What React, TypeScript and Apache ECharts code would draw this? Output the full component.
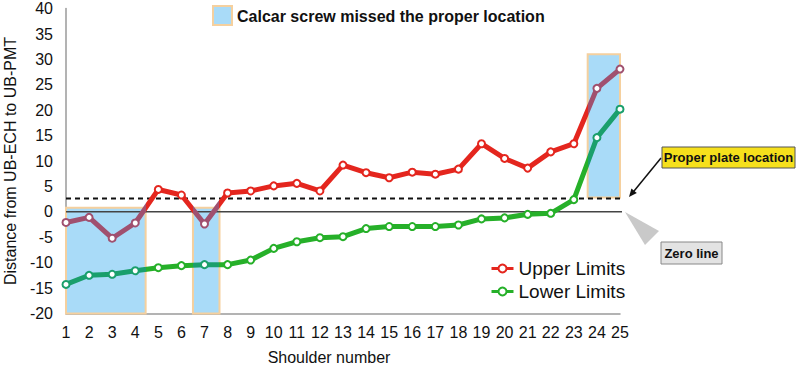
import React, { useEffect, useRef } from "react";
import * as echarts from "echarts";

const shoulders = [1, 2, 3, 4, 5, 6, 7, 8, 9, 10, 11, 12, 13, 14, 15, 16, 17, 18, 19, 20, 21, 22, 23, 24, 25];
const upperLimits = [-2.1, -1.1, -5.2, -2.2, 4.4, 3.3, -2.4, 3.7, 4.1, 5.1, 5.6, 4.1, 9.2, 7.7, 6.7, 7.8, 7.4, 8.4, 13.4, 10.5, 8.6, 11.8, 13.4, 24.3, 28.1];
const lowerLimits = [-14.3, -12.5, -12.3, -11.6, -11.0, -10.6, -10.4, -10.4, -9.5, -7.2, -5.9, -5.1, -4.9, -3.3, -2.9, -2.9, -2.9, -2.6, -1.4, -1.2, -0.5, -0.3, 2.4, 14.6, 20.2];
const yMin = -20;
const yMax = 40;
const yInterval = 5;
// [xStart, xEnd, yBottom, yTop] of the "calcar screw missed" boxes
const missedRanges = [
  [1, 4.45, -20, 0.8],
  [6.5, 7.65, -20, 0.8],
  [23.6, 25.4, 2.8, 31],
];
const properPlateLevel = 2.6;
const properPlateExtent = [1, 25.4];
const zeroLevel = 0;
const zeroExtent = [1, 25.1];
const seriesNames = ["Upper Limits", "Lower Limits"];
const missedLabel = "Calcar screw missed the proper location";

const RED = "#e4261e";
const PURPLE = "#a0506f";
const GREEN = "#26b029";
const TEAL = "#1a9f6c";
const BOX_FILL = "#a9dbf8";
const BOX_BORDER = "#f5d09e";

export default function App() {
  const ref = useRef<HTMLDivElement>(null);
  useEffect(() => {
    if (!ref.current) return;
    const chart = echarts.init(ref.current, undefined, { renderer: "svg" });
    const pieces = (c: string) =>
      missedRanges.map((r) => ({ gte: r[0], lte: r[1], color: c }));
    const font = "'Liberation Sans', Arial, Helvetica, sans-serif";
    chart.setOption({
      animation: false,
      textStyle: { fontFamily: font },
      grid: { left: 66, right: 177, top: 8.6, bottom: 52.6, outerBoundsMode: "none", containLabel: false },
      xAxis: {
        type: "value",
        min: 1,
        max: 25,
        interval: 1,
        name: "Shoulder number",
        nameLocation: "middle",
        nameGap: 36,
        nameTextStyle: { fontSize: 16, color: "#111", padding: [0, 28, 0, 0] },
        axisLine: { show: true, onZero: false, lineStyle: { color: "#9a9a9a", width: 1.5 } },
        axisTick: { show: false },
        splitLine: { show: false },
        axisLabel: { fontSize: 16, color: "#111", margin: 11 },
      },
      yAxis: {
        type: "value",
        min: yMin,
        max: yMax,
        interval: yInterval,
        name: "Distance from UB-ECH to UB-PMT",
        nameLocation: "middle",
        nameRotate: 90,
        nameGap: 48,
        nameTextStyle: { fontSize: 16, color: "#111" },
        axisLine: { show: true, onZero: false, lineStyle: { color: "#9a9a9a", width: 1.5 } },
        axisTick: { show: false },
        splitLine: { show: false },
        axisLabel: { fontSize: 16, color: "#111", margin: 13 },
      },
      legend: {
        data: seriesNames,
        orient: "vertical",
        left: 485,
        top: 254,
        itemWidth: 22,
        itemHeight: 10,
        itemGap: 4,
        textStyle: { fontSize: 19, color: "#111" },
        lineStyle: { width: 3 },
      },
      visualMap: [
        {
          type: "piecewise",
          show: false,
          seriesIndex: 1,
          dimension: 0,
          pieces: pieces(PURPLE),
          outOfRange: { color: RED },
        },
        {
          type: "piecewise",
          show: false,
          seriesIndex: 2,
          dimension: 0,
          pieces: pieces(TEAL),
          outOfRange: { color: GREEN },
        },
      ],
      series: [
        {
          type: "line",
          name: "boxes",
          data: [],
          z: 1,
          clip: false,
          silent: true,
          markArea: {
            silent: true,
            itemStyle: { color: BOX_FILL, borderColor: BOX_BORDER, borderWidth: 2 },
            data: missedRanges.map((r) => [
              { coord: [r[0], r[2]] },
              { coord: [r[1], r[3]] },
            ]),
          },
        },
        {
          type: "line",
          name: seriesNames[0],
          z: 3,
          color: RED,
          data: shoulders.map((s, i) => [s, upperLimits[i]]),
          symbol: "emptyCircle",
          symbolSize: 7,
          lineStyle: { width: 5 },
          itemStyle: { borderWidth: 1.5 },
        },
        {
          type: "line",
          name: seriesNames[1],
          z: 3,
          color: GREEN,
          data: shoulders.map((s, i) => [s, lowerLimits[i]]),
          symbol: "emptyCircle",
          symbolSize: 7,
          lineStyle: { width: 5 },
          itemStyle: { borderWidth: 1.5 },
        },
        {
          type: "line",
          name: "zero",
          z: 2,
          clip: false,
          silent: true,
          symbol: "none",
          color: "#444",
          lineStyle: { width: 1.5, color: "#444" },
          data: zeroExtent.map((x) => [x, zeroLevel]),
        },
        {
          type: "line",
          name: "proper",
          z: 2,
          clip: false,
          silent: true,
          symbol: "none",
          color: "#111",
          lineStyle: { width: 2, color: "#111", type: [5, 4] },
          data: properPlateExtent.map((x) => [x, properPlateLevel]),
        },
      ],
      graphic: [
        {
          type: "rect",
          shape: { x: 213, y: 6, width: 19, height: 19 },
          style: { fill: BOX_FILL, stroke: BOX_BORDER, lineWidth: 2 },
        },
        {
          type: "text",
          x: 237,
          y: 16,
          style: {
            text: missedLabel,
            fontSize: 16,
            fontWeight: "bold",
            fontFamily: font,
            fill: "#111",
            verticalAlign: "middle",
          },
        },
        {
          type: "line",
          shape: { x1: 661, y1: 158, x2: 632, y2: 193.5 },
          style: { stroke: "#111", lineWidth: 1.5 },
        },
        {
          type: "polygon",
          shape: { points: [[629, 197], [636.8, 193], [631.4, 188.6]] },
          style: { fill: "#111" },
        },
        {
          type: "rect",
          shape: { x: 662, y: 147, width: 133, height: 21 },
          style: { fill: "#f6e01c", stroke: "#555", lineWidth: 1 },
        },
        {
          type: "text",
          x: 728.5,
          y: 157.5,
          style: {
            text: "Proper plate location",
            fontSize: 13,
            fontWeight: "bold",
            fontFamily: font,
            fill: "#111",
            align: "center",
            verticalAlign: "middle",
          },
        },
        {
          type: "polygon",
          shape: { points: [[625, 212], [659, 231], [645, 245]] },
          style: { fill: "#c9c9c9" },
        },
        {
          type: "rect",
          shape: { x: 661, y: 242, width: 61, height: 22 },
          style: { fill: "#e3e3e3", stroke: "#888", lineWidth: 1 },
        },
        {
          type: "text",
          x: 691.5,
          y: 253,
          style: {
            text: "Zero line",
            fontSize: 13,
            fontWeight: "bold",
            fontFamily: font,
            fill: "#111",
            align: "center",
            verticalAlign: "middle",
          },
        },
      ],
    });
    return () => chart.dispose();
  }, []);
  return (
    <div
      ref={ref}
      style={{ position: "fixed", left: 0, top: 0, width: 797, height: 366, background: "#fff" }}
    />
  );
}
